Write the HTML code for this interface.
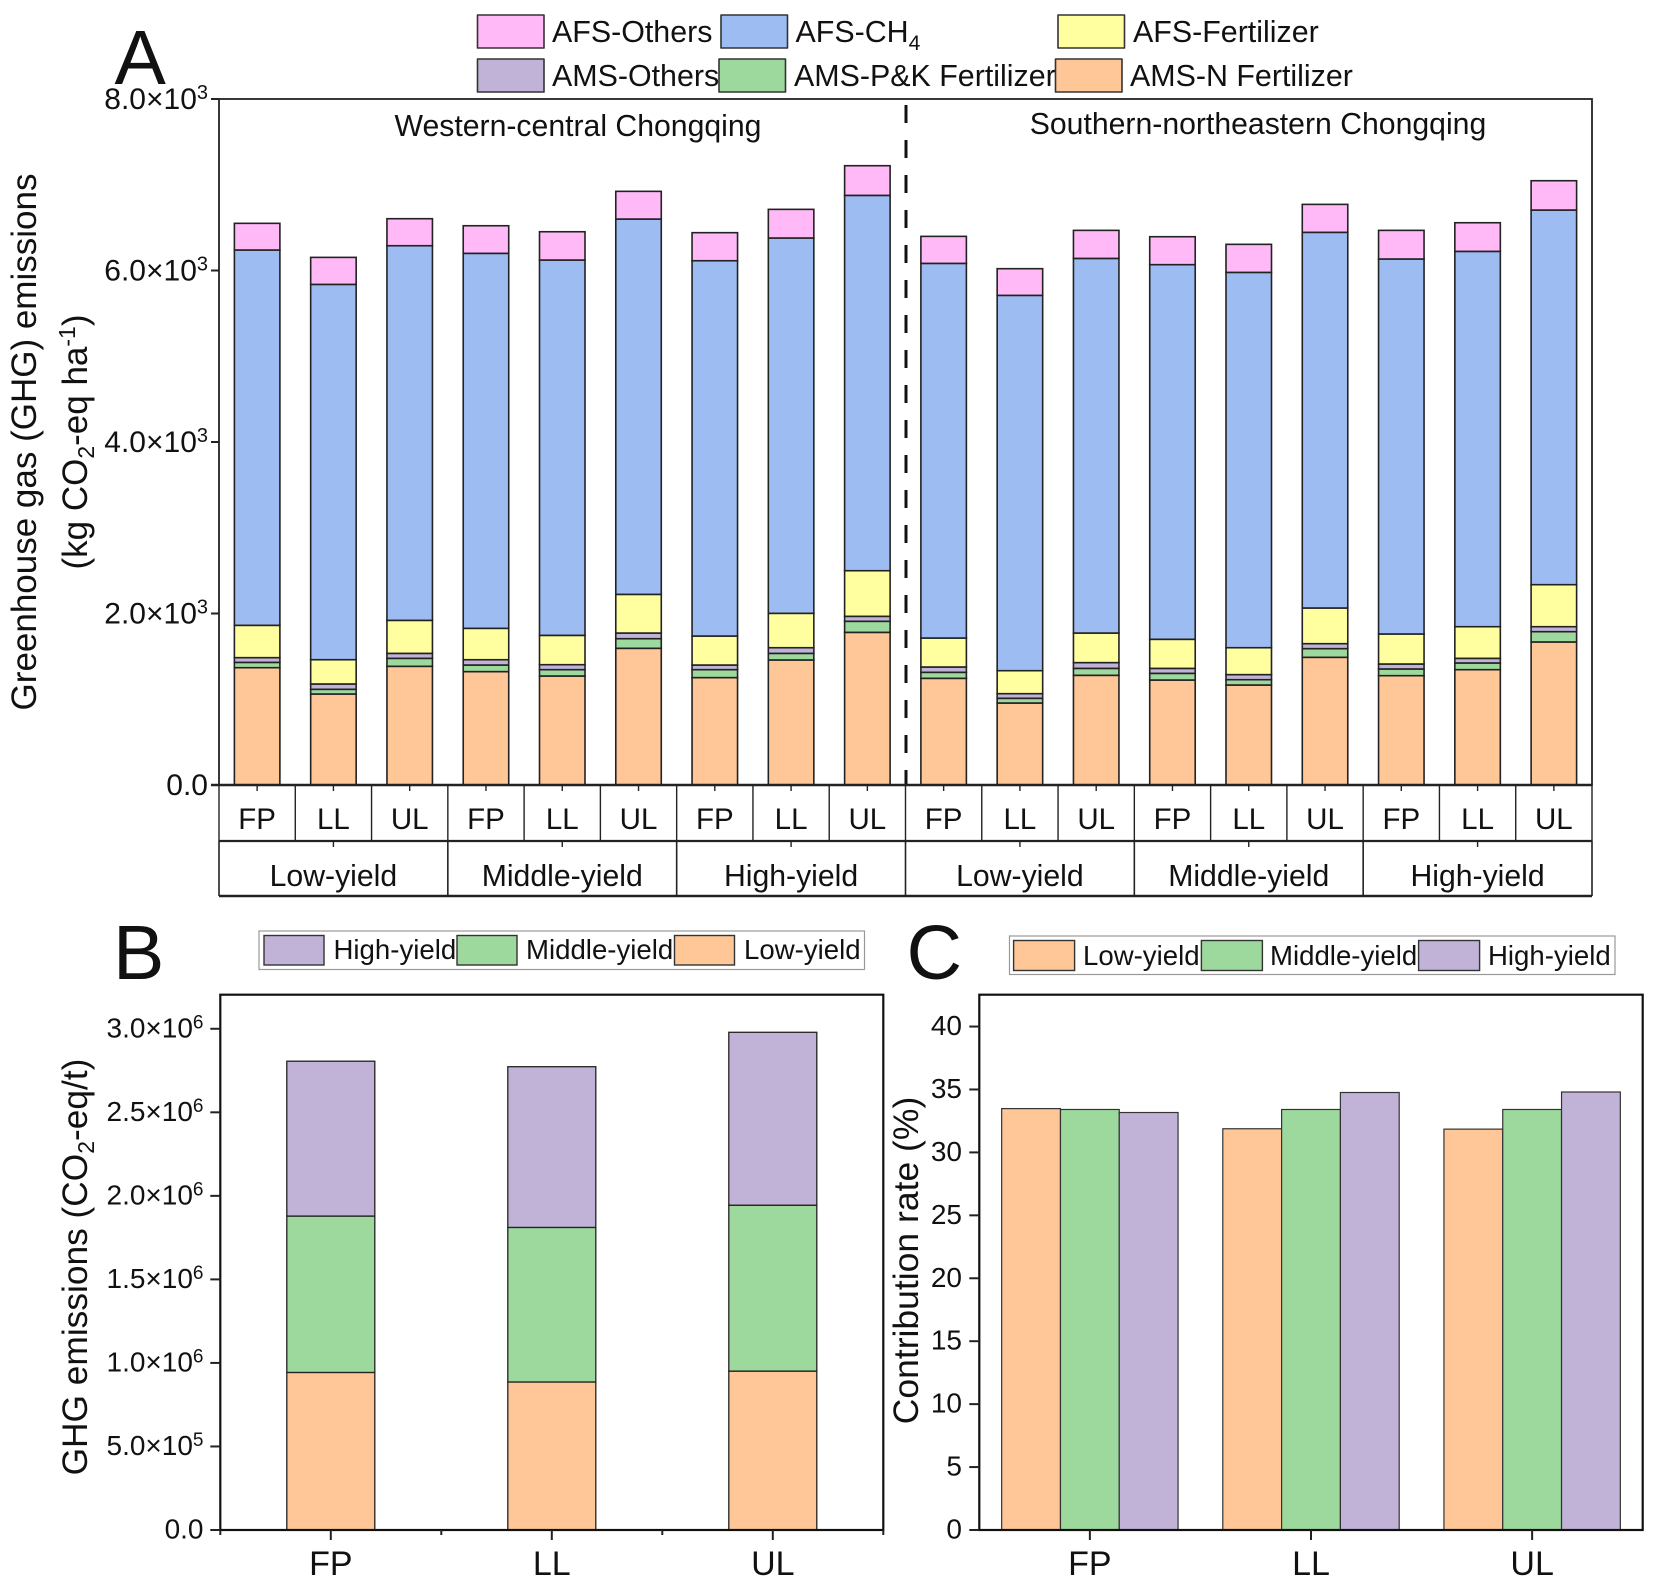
<!DOCTYPE html>
<html lang="en">
<head>
<meta charset="utf-8">
<title>GHG emissions chart</title>
<style>
html,body{margin:0;padding:0;background:#fff;}
svg{display:block;filter:blur(0.35px);}
text{font-family:"Liberation Sans",Arial,sans-serif;fill:#111;}
</style>
</head>
<body>
<svg id="chart" xmlns="http://www.w3.org/2000/svg" width="1654" height="1585" viewBox="0 0 1654 1585">
  <rect x="0" y="0" width="1654" height="1585" fill="#fff"/>

  <text x="114.5" y="84" font-size="77">A</text>
  <text x="113" y="979" font-size="77">B</text>
  <text x="906.5" y="979" font-size="77">C</text>

  <g font-size="30.4" stroke-linejoin="round">
    <rect x="477.5" y="15" width="66.5" height="33" fill="#FFB9F7" stroke="#333" stroke-width="1.6"/>
    <text x="552" y="42">AFS-Others</text>
    <rect x="721" y="15" width="66.5" height="33" fill="#9DBCF2" stroke="#333" stroke-width="1.6"/>
    <text x="795.5" y="42">AFS-CH<tspan dy="8" font-size="21">4</tspan></text>
    <rect x="1058" y="15" width="66.5" height="33" fill="#FFFFA0" stroke="#333" stroke-width="1.6"/>
    <text x="1133" y="42">AFS-Fertilizer</text>
    <rect x="477.5" y="59" width="66.5" height="33" fill="#C1B2D8" stroke="#333" stroke-width="1.6"/>
    <text x="552" y="86">AMS-Others</text>
    <rect x="719" y="59" width="66.5" height="33" fill="#9DD89D" stroke="#333" stroke-width="1.6"/>
    <text x="794" y="86">AMS-P&amp;K Fertilizer</text>
    <rect x="1055.5" y="59" width="66.5" height="33" fill="#FFC697" stroke="#333" stroke-width="1.6"/>
    <text x="1130" y="86">AMS-N Fertilizer</text>
  </g>

  <g font-size="27.6">
    <rect x="259" y="931" width="605.5" height="38.5" fill="#fff" stroke="#999" stroke-width="1.2"/>
    <rect x="264" y="935.5" width="60" height="29.5" fill="#C1B2D8" stroke="#333" stroke-width="1.4"/>
    <text x="333.5" y="959">High-yield</text>
    <rect x="457" y="935.5" width="60" height="29.5" fill="#9DD89D" stroke="#333" stroke-width="1.4"/>
    <text x="526" y="959">Middle-yield</text>
    <rect x="674.5" y="935.5" width="60" height="29.5" fill="#FFC697" stroke="#333" stroke-width="1.4"/>
    <text x="744" y="959">Low-yield</text>
  </g>

  <g font-size="27.6">
    <rect x="1009.5" y="936" width="605.5" height="38.5" fill="#fff" stroke="#999" stroke-width="1.2"/>
    <rect x="1013.6" y="940.5" width="61" height="30" fill="#FFC697" stroke="#333" stroke-width="1.4"/>
    <text x="1083" y="965">Low-yield</text>
    <rect x="1201.4" y="940.5" width="61" height="30" fill="#9DD89D" stroke="#333" stroke-width="1.4"/>
    <text x="1270" y="965">Middle-yield</text>
    <rect x="1418.6" y="940.5" width="61" height="30" fill="#C1B2D8" stroke="#333" stroke-width="1.4"/>
    <text x="1488" y="965">High-yield</text>
  </g>

  <text transform="translate(36,442) rotate(-90)" text-anchor="middle" font-size="35">Greenhouse gas (GHG) emissions</text>
  <text transform="translate(87,442) rotate(-90)" text-anchor="middle" font-size="35">(kg CO<tspan dy="7" font-size="23">2</tspan><tspan dy="-7">-eq ha</tspan><tspan dy="-12" font-size="23">-1</tspan><tspan dy="12">)</tspan></text>
  <text transform="translate(87,1267) rotate(-90)" text-anchor="middle" font-size="35.3">GHG emissions (CO<tspan dy="7" font-size="23">2</tspan><tspan dy="-7">-eq/t)</tspan></text>
  <text transform="translate(918,1260.5) rotate(-90)" text-anchor="middle" font-size="35.5">Contribution rate (%)</text>

  <text x="578" y="136" text-anchor="middle" font-size="30.2">Western-central Chongqing</text>
  <text x="1258" y="134" text-anchor="middle" font-size="30.2">Southern-northeastern Chongqing</text>

  <g id="layer-a"></g>
  <g id="layer-a-axes"></g>
  <g id="layer-b"></g>
  <g id="layer-b-axes"></g>
  <g id="layer-c"></g>
  <g id="layer-c-axes"></g>
</svg>

<script>
// ---- Panel A data ----
const treatmentsA = ['FP','LL','UL','FP','LL','UL','FP','LL','UL','FP','LL','UL','FP','LL','UL','FP','LL','UL'];
const yieldGroupsA = ['Low-yield','Middle-yield','High-yield','Low-yield','Middle-yield','High-yield'];
const amsNFertilizer = [1368,1061,1384,1322,1271,1594,1252,1458,1780,1244,956,1279,1224,1166,1489,1275,1345,1668];
const amsPKFertilizer = [62,55,93,77,74,112,93,77,129,70,55,81,78,62,101,78,78,120];
const amsOthers = [55,62,58,62,58,66,54,66,58,62,54,67,58,59,58,58,54,58];
const afsFertilizer = [377,283,385,366,342,451,338,401,532,338,268,345,339,314,416,350,369,490];
const afsCH4 = [4377,4377,4369,4373,4377,4377,4377,4377,4377,4369,4377,4369,4369,4377,4381,4373,4377,4369];
const afsOthersVals = [311,315,315,322,330,323,327,334,346,315,311,327,326,327,326,334,334,342];
const tickValuesA = [0,2000,4000,6000,8000];
const tickMantissaA = ['0.0','2.0','4.0','6.0','8.0'];
const tickExponentA = ['','3','3','3','3'];

// ---- Panel B data ----
const categoriesB = ['FP','LL','UL'];
const lowYieldB = [943000,886000,951000];
const middleYieldB = [936000,925000,993000];
const highYieldB = [927000,962000,1035000];
const tickValuesB = [0,500000,1000000,1500000,2000000,2500000,3000000];
const tickMantissaB = ['0.0','5.0','1.0','1.5','2.0','2.5','3.0'];
const tickExponentB = ['','5','6','6','6','6','6'];

// ---- Panel C data ----
const categoriesC = ['FP','LL','UL'];
const lowYieldC = [33.48,31.88,31.85];
const middleYieldC = [33.41,33.41,33.41];
const highYieldC = [33.17,34.76,34.8];
const tickValuesC = [0,5,10,15,20,25,30,35,40];

const NS = 'http://www.w3.org/2000/svg';
const INK = '#222';
const COLORS = {n:'#FFC697', pk:'#9DD89D', oth:'#C1B2D8', fert:'#FFFFA0', ch4:'#9DBCF2', afsOth:'#FFB9F7'};

function mk(tag, parent, attrs){
  const e = document.createElementNS(NS, tag);
  for (const k in attrs) e.setAttribute(k, attrs[k]);
  parent.appendChild(e);
  return e;
}
function seg(parent, x1, y1, x2, y2, w, color){
  return mk('line', parent, {x1:x1, y1:y1, x2:x2, y2:y2, stroke:color || INK, 'stroke-width':w});
}

// ---- Axis functions ----
const A = {l:219, r:1592, t:99, b:785, max:8000, row1:841, row2:896};
const xA = i => A.l + (i + 0.5) * (A.r - A.l) / treatmentsA.length;
const edgeA = i => A.l + i * (A.r - A.l) / treatmentsA.length;
const yA = v => A.b - v / A.max * (A.b - A.t);
const barWA = 45.5;

const B = {l:220.3, r:883.3, t:994.7, b:1530, max:3204000};
const xB = i => B.l + (i + 0.5) * (B.r - B.l) / categoriesB.length;
const edgeB = i => B.l + i * (B.r - B.l) / categoriesB.length;
const yB = v => B.b - v / B.max * (B.b - B.t);
const barWB = 88;

const C = {l:979.3, r:1642.7, t:994.7, b:1530, max:42.53};
const xC = i => C.l + (i + 0.5) * (C.r - C.l) / categoriesC.length;
const yC = v => C.b - v / C.max * (C.b - C.t);
const barWC = 58.8;

// ---- Panel A ----
const layerA = document.getElementById('layer-a');
const axesA = document.getElementById('layer-a-axes');
const stackA = [
  ['ams-n-fertilizer', amsNFertilizer, COLORS.n],
  ['ams-pk-fertilizer', amsPKFertilizer, COLORS.pk],
  ['ams-others', amsOthers, COLORS.oth],
  ['afs-fertilizer', afsFertilizer, COLORS.fert],
  ['afs-ch4', afsCH4, COLORS.ch4],
  ['afs-others', afsOthersVals, COLORS.afsOth]
];
treatmentsA.forEach((t, i) => {
  let base = 0;
  stackA.forEach(s => {
    const v = s[1][i];
    const r = mk('rect', layerA, {x:xA(i) - barWA / 2, y:yA(base + v), width:barWA, height:yA(base) - yA(base + v), fill:s[2], stroke:INK, 'stroke-width':1.6});
    
    
    base += v;
  });
});

const frameA = mk('rect', axesA, {x:A.l, y:A.t, width:A.r - A.l, height:A.b - A.t, fill:'none', stroke:INK, 'stroke-width':1.8});



const divider = mk('line', axesA, {x1:906, y1:105, x2:906, y2:A.b, stroke:'#111', 'stroke-width':3, 'stroke-dasharray':'18 17'});



tickValuesA.forEach((v, i) => {
  const tick = seg(axesA, A.l - 8, yA(v), A.l, yA(v), 2);
  
  
  const label = mk('text', axesA, {x:208, y:yA(v) + 10, 'text-anchor':'end', 'font-size':30});
  
  
  label.textContent = tickMantissaA[i] + (tickExponentA[i] ? '×10' : '');
  if (tickExponentA[i]) {
    const sup = mk('tspan', label, {dy:-10, 'font-size':20});
    sup.textContent = tickExponentA[i];
  }
});

const rowLineA = seg(axesA, A.l, A.row1, A.r, A.row1, 2.2);


const bottomLineA = seg(axesA, A.l, A.row2, A.r, A.row2, 2.4);


const baseLineA = seg(axesA, A.l - 8, A.b, A.r, A.b, 2.4);



for (let i = 0; i <= treatmentsA.length; i++) {
  const sep = seg(axesA, edgeA(i), A.b, edgeA(i), A.row1, 1.4);
  
  
}
treatmentsA.forEach((t, i) => {
  const tick = seg(axesA, xA(i), A.b, xA(i), A.b + 6, 1.4);
  
  
  const label = mk('text', axesA, {x:xA(i), y:829, 'text-anchor':'middle', 'font-size':29.5});
  
  
  label.textContent = t;
});
const spanA = treatmentsA.length / yieldGroupsA.length;
for (let g = 0; g <= yieldGroupsA.length; g++) {
  const sep = seg(axesA, edgeA(g * spanA), A.row1, edgeA(g * spanA), A.row2, 1.6);
  
  
}
yieldGroupsA.forEach((g, i) => {
  const cx = edgeA((i + 0.5) * spanA);
  const tick = seg(axesA, cx, A.row1, cx, A.row1 + 6, 1.4);
  
  
  const label = mk('text', axesA, {x:cx, y:886, 'text-anchor':'middle', 'font-size':30.2});
  
  
  label.textContent = g;
});

// ---- Panel B ----
const layerB = document.getElementById('layer-b');
const axesB = document.getElementById('layer-b-axes');
const stackB = [
  ['low-yield', lowYieldB, COLORS.n],
  ['middle-yield', middleYieldB, COLORS.pk],
  ['high-yield', highYieldB, COLORS.oth]
];
categoriesB.forEach((c, i) => {
  let base = 0;
  stackB.forEach(s => {
    const v = s[1][i];
    const r = mk('rect', layerB, {x:xB(i) - barWB / 2, y:yB(base + v), width:barWB, height:yB(base) - yB(base + v), fill:s[2], stroke:INK, 'stroke-width':1.3});
    
    
    base += v;
  });
});
const frameB = mk('rect', axesB, {x:B.l, y:B.t, width:B.r - B.l, height:B.b - B.t, fill:'none', stroke:'#111', 'stroke-width':2.2});


tickValuesB.forEach((v, i) => {
  const tick = seg(axesB, B.l - 10, yB(v), B.l, yB(v), 2);
  
  
  const label = mk('text', axesB, {x:203.5, y:yB(v) + 8.5, 'text-anchor':'end', 'font-size':28});
  
  
  label.textContent = tickMantissaB[i] + (tickExponentB[i] ? '×10' : '');
  if (tickExponentB[i]) {
    const sup = mk('tspan', label, {dy:-9, 'font-size':19});
    sup.textContent = tickExponentB[i];
  }
});
categoriesB.forEach((c, i) => {
  const tick = seg(axesB, xB(i), B.b, xB(i), B.b + 10, 2);
  
  
  const label = mk('text', axesB, {x:xB(i), y:1575, 'text-anchor':'middle', 'font-size':34});
  
  
  label.textContent = c;
});
for (let i = 0; i <= categoriesB.length; i++) {
  const minor = seg(axesB, edgeB(i), B.b, edgeB(i), B.b + 5, 2);
  
  
}

// ---- Panel C ----
const layerC = document.getElementById('layer-c');
const axesC = document.getElementById('layer-c-axes');
const groupC = [
  ['low-yield', lowYieldC, COLORS.n],
  ['middle-yield', middleYieldC, COLORS.pk],
  ['high-yield', highYieldC, COLORS.oth]
];
categoriesC.forEach((c, i) => {
  groupC.forEach((s, j) => {
    const v = s[1][i];
    const r = mk('rect', layerC, {x:xC(i) + (j - 1.5) * barWC, y:yC(v), width:barWC, height:yC(0) - yC(v), fill:s[2], stroke:'#333', 'stroke-width':1.2});
    
    
  });
});
const frameC = mk('rect', axesC, {x:C.l, y:C.t, width:C.r - C.l, height:C.b - C.t, fill:'none', stroke:'#111', 'stroke-width':2.2});


tickValuesC.forEach(v => {
  const tick = seg(axesC, C.l - 10, yC(v), C.l, yC(v), 2);
  
  
  const label = mk('text', axesC, {x:962, y:yC(v) + 8.5, 'text-anchor':'end', 'font-size':28});
  
  
  label.textContent = String(v);
});
categoriesC.forEach((c, i) => {
  const tick = seg(axesC, xC(i), C.b, xC(i), C.b + 10, 2);
  
  
  const label = mk('text', axesC, {x:xC(i), y:1575, 'text-anchor':'middle', 'font-size':34});
  
  
  label.textContent = c;
});
</script>
</body>
</html>
